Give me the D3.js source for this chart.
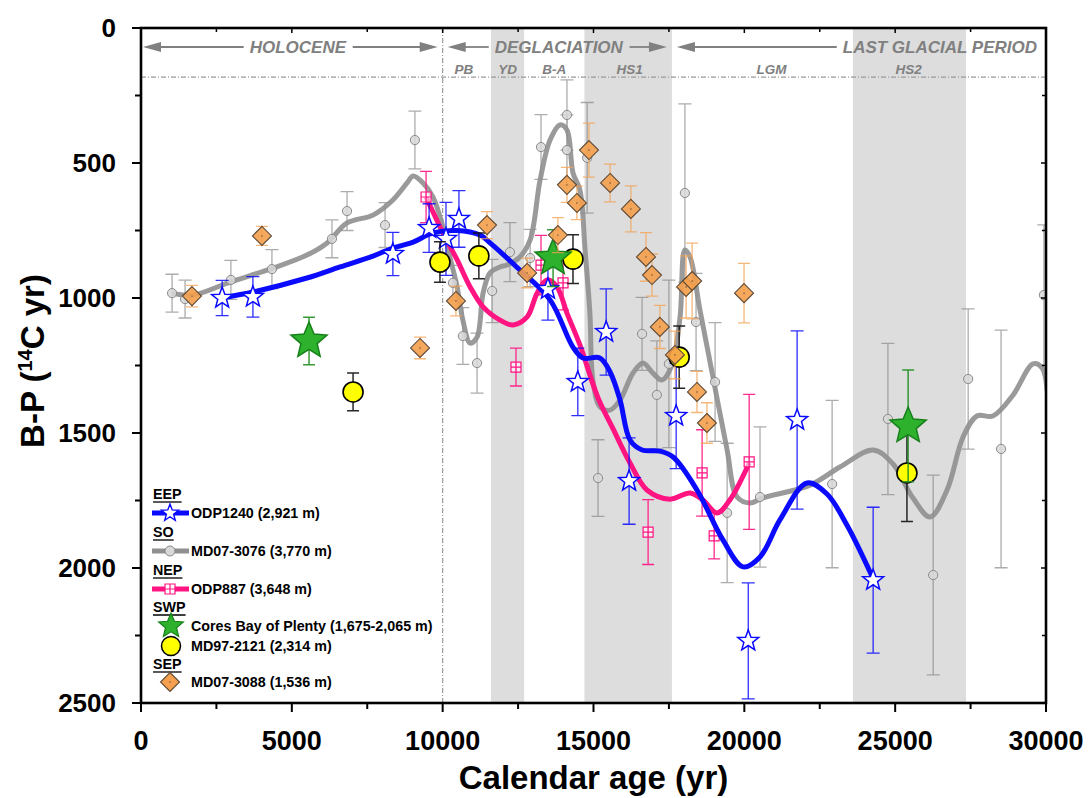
<!DOCTYPE html>
<html>
<head>
<meta charset="utf-8">
<script src="https://cdn.jsdelivr.net/npm/d3@7"></script>
<style>
  body { margin: 0; background: #fff; }
  svg { font-family: "Liberation Sans", Arial, Helvetica, sans-serif; }
</style>
</head>
<body>
<svg id="chart" width="1089" height="798"></svg>
<script>
// ---------- axis ticks ----------
const xTicks = [0, 5000, 10000, 15000, 20000, 25000, 30000];
const yTicks = [0, 500, 1000, 1500, 2000, 2500];

// ---------- climate intervals ----------
const shadedIntervals = [[11600, 12700], [14700, 17600], [23600, 27350]];
const periodNames = ["HOLOCENE", "DEGLACIATION", "LAST GLACIAL PERIOD"];
const periodRanges = [[0, 10000], [10000, 17600], [17600, 30000]];
const periodLabelAt = [5200, 13850, 30000];
const subPeriodNames = ["PB", "YD", "B-A", "HS1", "LGM", "HS2"];
const subPeriodAt = [10700, 12150, 13700, 16200, 20900, 25450];

// ---------- EEP: ODP1240 [age, B-P, 1σ] ----------
const odp1240 = [[2690,1000,65],[3710,996,75],[8350,837,80],[9550,741,90],[10110,781,135],
  [10540,707,105],[13490,967,115],[14480,1311,125],[15420,1126,160],[16180,1678,160],
  [17740,1437,195],[20130,2270,215],[21750,1452,330],[24270,2045,270]];
const odp1240Fit = [[2880,996],[3710,978],[5500,926],[6600,885],[7690,845],[8350,815],
  [9020,793],[9680,759],[10480,750],[11240,767],[11570,796],[12450,885],[13560,1007],
  [14320,1182],[14650,1222],[15210,1222],[15550,1274],[15880,1378],[16210,1526],
  [16610,1563],[17200,1567],[17640,1589],[18430,1711],[19290,1896],[19960,1996],
  [20520,1959],[21180,1822],[22080,1685],[22740,1726],[23400,1841],[24270,2040]];

// ---------- SO: MD07-3076 ----------
const md073076 = [[1030,982,70],[1460,1004,70],[2980,933,72],[4340,893,72],[6330,781,70],
  [6830,678,72],[8090,730,83],[9080,415,107],[10340,944,65],[10670,1141,105],[11140,1241,111],
  [11640,974,117],[12230,830,109],[12900,852,106],[13260,441,120],[14120,322,130],[14120,452,130],
  [14790,481,205],[15150,1667,142],[16610,1133,135],[17100,1359,200],[17500,1244,310],
  [18030,611,330],[18400,1089,180],[19030,1311,220],[19430,1796,258],[20520,1737,260],
  [22910,1689,310],[24760,1448,280],[26260,2026,370],[27420,1300,260],[28510,1559,440],
  [29930,989,260]];
const md073076Fit = [[1030,982],[1720,989],[2950,941],[4380,889],[5500,841],[6170,796],
  [6830,722],[7690,693],[8350,637],[8820,574],[9020,548],[9350,574],[9680,626],[10010,737],
  [10240,848],[10480,959],[10670,1082],[10910,1167],[11140,1145],[11340,982],[11570,907],
  [11900,885],[12130,878],[12560,848],[12900,785],[13230,563],[13560,415],[13890,359],
  [14120,378],[14320,537],[14550,600],[14720,822],[14880,1056],[14980,1304],[15220,1404],
  [15550,1415],[15880,1378],[16310,1278],[16640,1241],[16970,1278],[17270,1304],[17600,1248],
  [17870,1070],[18030,822],[18200,848],[18530,1045],[18960,1293],[19430,1563],[19760,1737],
  [20190,1759],[20590,1741],[22180,1693],[23170,1626],[24270,1563],[24930,1615],[25590,1741],
  [26160,1811],[26720,1711],[27250,1515],[27710,1437],[28240,1437],[28910,1359],[29570,1244],
  [29870,1259],[30040,1344]];

// ---------- NEP: ODP887 ----------
const odp887 = [[9450,626,95],[12430,1256,70],[13260,878,110],[13990,944,100],
  [16810,1867,120],[18600,1648,160],[19000,1881,85],[20160,1607,250]];
const odp887Fit = [[9450,626],[10010,759],[10480,859],[10910,959],[11340,1033],[11900,1082],
  [12330,1100],[12800,1070],[13130,982],[13460,933],[13790,959],[14120,1056],[14550,1174],
  [15150,1370],[15650,1485],[16210,1611],[16770,1711],[17540,1745],[18200,1722],[18630,1748],
  [19090,1796],[19520,1748],[20160,1611]];

// ---------- SWP ----------
const bayOfPlenty = [[5570,1159,88],[13660,852,105],[25430,1474,207]];
const md972121 = [[7030,1348,70],[9910,867,75],[11200,844,85],[14320,856,90],
  [17840,1219,115],[25390,1648,180]];

// ---------- SEP: MD07-3088 ----------
const md073088 = [[1690,993,40],[4010,770,35],[9250,1185,40],[10440,1011,55],[11470,730,50],
  [12800,907,55],[13820,767,65],[14120,581,65],[14450,648,62],[14850,452,100],[15550,574,70],
  [16240,670,85],[16740,848,90],[16940,915,78],[17200,1107,80],[17700,1211,88],[18070,959,115],
  [18270,937,140],[18430,1348,76],[18760,1463,75],[19990,982,110]];

// ---------- legend ----------
const legendGroups = ["EEP", "SO", "NEP", "SWP", "SEP"];
const legendLabels = ["ODP1240 (2,921 m)", "MD07-3076 (3,770 m)", "ODP887 (3,648 m)",
  "Cores Bay of Plenty (1,675-2,065 m)", "MD97-2121 (2,314 m)", "MD07-3088 (1,536 m)"];

// =================================================================
const svg = d3.select("#chart");
const plotL = 141, plotR = 1046, plotT = 28, plotB = 703;
const x = d3.scaleLinear().domain([0, 30000]).range([plotL, plotR]);
const y = d3.scaleLinear().domain([0, 2500]).range([plotT, plotB]);

const BLUE = "#0a0aff", PINK = "#ff1482", GREY = "#8f8f8f", ORANGE = "#f4a04e";

svg.append("defs").append("clipPath").attr("id", "plot")
  .append("rect").attr("x", plotL).attr("y", plotT).attr("width", plotR - plotL).attr("height", plotB - plotT);

// shaded intervals
svg.append("g").selectAll("rect").data(shadedIntervals).join("rect")
  .attr("x", d => x(d[0])).attr("width", d => x(d[1]) - x(d[0]))
  .attr("y", plotT).attr("height", plotB - plotT).attr("fill", "#dddddd");

// dash-dot reference lines
svg.append("line").attr("x1", x(10000)).attr("x2", x(10000)).attr("y1", plotT).attr("y2", plotB)
  .attr("stroke", "#999").attr("stroke-width", 1.2).attr("stroke-dasharray", "5,2,1,2");
svg.append("line").attr("x1", plotL).attr("x2", plotR).attr("y1", y(182)).attr("y2", y(182))
  .attr("stroke", "#999").attr("stroke-width", 1.2).attr("stroke-dasharray", "5,2,1,2");

// period arrows & labels
const hdr = svg.append("g").attr("fill", "#808080").attr("stroke", "#808080");
const arrowY = 47, headLen = 18, headHalf = 5;
function headLeft(px) {
  hdr.append("path").attr("stroke", "none")
    .attr("d", `M${px},${arrowY}L${px + headLen},${arrowY - headHalf}L${px + headLen},${arrowY + headHalf}Z`);
}
function headRight(px) {
  hdr.append("path").attr("stroke", "none")
    .attr("d", `M${px},${arrowY}L${px - headLen},${arrowY - headHalf}L${px - headLen},${arrowY + headHalf}Z`);
}
periodNames.forEach((name, i) => {
  const [a, b] = periodRanges[i];
  const x1 = x(a) + (i === 0 ? 2 : 5), x2 = x(b) - (i === 2 ? 0 : 5);
  const t = hdr.append("text").attr("stroke", "none")
    .attr("font-size", 17).attr("font-weight", "bold").attr("font-style", "italic")
    .attr("y", arrowY + 6).text(name);
  if (i === 2) {
    t.attr("x", x(periodLabelAt[i]) - 9).attr("text-anchor", "end");
  } else {
    t.attr("x", x(periodLabelAt[i])).attr("text-anchor", "middle");
  }
  const bb = t.node().getBBox();
  headLeft(x1);
  hdr.append("line").attr("stroke-width", 1.8)
    .attr("x1", x1 + headLen - 1).attr("x2", bb.x - 6).attr("y1", arrowY).attr("y2", arrowY);
  if (i !== 2) {
    headRight(x2);
    hdr.append("line").attr("stroke-width", 1.8)
      .attr("x1", bb.x + bb.width + 6).attr("x2", x2 - headLen + 1).attr("y1", arrowY).attr("y2", arrowY);
  }
});
svg.append("g").selectAll("text").data(subPeriodNames).join("text")
  .attr("x", (d, i) => x(subPeriodAt[i])).attr("y", 74)
  .attr("text-anchor", "middle").attr("font-size", 13.5).attr("font-weight", "bold")
  .attr("font-style", "italic").attr("fill", "#808080").text(d => d);

// ---------- helpers ----------
const plot = svg.append("g").attr("clip-path", "url(#plot)");
const fitLine = d3.line().x(d => x(d[0])).y(d => y(d[1])).curve(d3.curveCatmullRom.alpha(0.5));

function errorBars(data, color, cap, width, opacity) {
  plot.append("g").attr("stroke", color).attr("stroke-width", width).attr("opacity", opacity)
    .attr("fill", "none")
    .selectAll("path").data(data).join("path")
    .attr("d", d => {
      const cx = x(d[0]), y1 = y(d[1] - d[2]), y2 = y(d[1] + d[2]);
      return `M${cx},${y1}V${y2}M${cx - cap / 2},${y1}h${cap}M${cx - cap / 2},${y2}h${cap}`;
    });
}
function starPath(R, ratio = 0.42) {
  const pts = d3.range(10).map(i => {
    const ang = -Math.PI / 2 + i * Math.PI / 5, r = i % 2 ? R * ratio : R;
    return [r * Math.cos(ang), r * Math.sin(ang)];
  });
  return "M" + pts.map(p => p.join(",")).join("L") + "Z";
}
function squarePath(s) {
  const h = s / 2;
  return `M${-h},${-h}h${s}v${s}h${-s}Z M0,${-h}V${h} M${-h},0H${h}`;
}
function diamondPath(h) { return `M0,${-h}L${h},0L0,${h}L${-h},0Z`; }

// ---------- SO: MD07-3076 ----------
errorBars(md073076, "#8a8a8a", 13, 1.3, 0.7);
plot.append("path").datum(md073076Fit).attr("d", fitLine)
  .attr("fill", "none").attr("stroke", GREY).attr("stroke-width", 5).attr("opacity", 0.9);
plot.append("g").selectAll("circle").data(md073076).join("circle")
  .attr("cx", d => x(d[0])).attr("cy", d => y(d[1])).attr("r", 4.6)
  .attr("fill", "#d8d8d8").attr("fill-opacity", 0.85).attr("stroke", "#8a8a8a").attr("stroke-width", 1);

// ---------- NEP: ODP887 ----------
errorBars(odp887, PINK, 12, 1.3, 0.9);
plot.append("path").datum(odp887Fit).attr("d", fitLine)
  .attr("fill", "none").attr("stroke", PINK).attr("stroke-width", 5);
plot.append("g").selectAll("path").data(odp887).join("path")
  .attr("transform", d => `translate(${x(d[0])},${y(d[1])})`).attr("d", squarePath(10))
  .attr("fill", "rgba(255,255,255,0.6)").attr("stroke", PINK).attr("stroke-width", 1.2);

// ---------- EEP: ODP1240 ----------
errorBars(odp1240, BLUE, 13, 1.3, 0.85);
plot.append("path").datum(odp1240Fit).attr("d", fitLine)
  .attr("fill", "none").attr("stroke", BLUE).attr("stroke-width", 5);
plot.append("g").selectAll("path").data(odp1240).join("path")
  .attr("transform", d => `translate(${x(d[0])},${y(d[1])})`).attr("d", starPath(11))
  .attr("fill", "#fff").attr("stroke", BLUE).attr("stroke-width", 1.5);

// ---------- SWP ----------
errorBars(md972121, "#111", 12, 1.5, 0.9);
plot.append("g").selectAll("circle").data(md972121).join("circle")
  .attr("cx", d => x(d[0])).attr("cy", d => y(d[1])).attr("r", 10)
  .attr("fill", "#ffff00").attr("stroke", "#000").attr("stroke-width", 1.6);
errorBars(bayOfPlenty, "#1f8f1f", 12, 1.5, 0.9);
plot.append("g").selectAll("path").data(bayOfPlenty).join("path")
  .attr("transform", d => `translate(${x(d[0])},${y(d[1])})`).attr("d", starPath(19, 0.45))
  .attr("fill", "#2eb22e").attr("stroke", "#17801a").attr("stroke-width", 1.5);

// ---------- SEP: MD07-3088 ----------
errorBars(md073088, ORANGE, 12, 1.3, 0.75);
const dia = plot.append("g").selectAll("g").data(md073088).join("g")
  .attr("transform", d => `translate(${x(d[0])},${y(d[1])})`);
dia.append("path").attr("d", diamondPath(9.5))
  .attr("fill", ORANGE).attr("fill-opacity", 0.9).attr("stroke", "#5e4a36").attr("stroke-width", 1.1);
dia.append("circle").attr("r", 0.7).attr("fill", "#5e4a36");

// ---------- axes & frame ----------
const axes = svg.append("g");
const xMinor = d3.range(0, 30001, 2500), yMinor = d3.range(0, 2501, 250);
axes.append("g").selectAll("line").data(xMinor).join("line")
  .attr("x1", d => x(d)).attr("x2", d => x(d)).attr("y1", plotB)
  .attr("y2", d => plotB + (d % 5000 === 0 ? 9 : 6)).attr("stroke", "#000").attr("stroke-width", 2);
axes.append("g").selectAll("line").data(xMinor).join("line")
  .attr("x1", d => x(d)).attr("x2", d => x(d)).attr("y1", plotT)
  .attr("y2", d => plotT + (d % 5000 === 0 ? 5 : 4)).attr("stroke", "#000").attr("stroke-width", 1.5);
axes.append("g").selectAll("line").data(yMinor).join("line")
  .attr("y1", d => y(d)).attr("y2", d => y(d)).attr("x1", plotL)
  .attr("x2", d => plotL - (d % 500 === 0 ? 9 : 6)).attr("stroke", "#000").attr("stroke-width", 2);
axes.append("g").selectAll("line").data(yMinor).join("line")
  .attr("y1", d => y(d)).attr("y2", d => y(d)).attr("x1", plotR)
  .attr("x2", d => plotR - (d % 500 === 0 ? 5 : 4)).attr("stroke", "#000").attr("stroke-width", 1.5);
axes.append("rect").attr("x", plotL).attr("y", plotT).attr("width", plotR - plotL).attr("height", plotB - plotT)
  .attr("fill", "none").attr("stroke", "#000").attr("stroke-width", 2.6);

axes.append("g").selectAll("text").data(xTicks).join("text")
  .attr("x", d => x(d)).attr("y", 750).attr("text-anchor", "middle")
  .attr("font-size", 27).attr("font-weight", "bold").text(d => d);
axes.append("g").selectAll("text").data(yTicks).join("text")
  .attr("x", 116).attr("y", d => y(d)).attr("dy", "0.36em").attr("text-anchor", "end")
  .attr("font-size", 26).attr("font-weight", "bold").text(d => d);

svg.append("text").attr("x", (plotL + plotR) / 2).attr("y", 789).attr("text-anchor", "middle")
  .attr("font-size", 33).attr("font-weight", "bold").text("Calendar age (yr)");
const yt = svg.append("text").attr("transform", `translate(44,361) rotate(-90)`)
  .attr("text-anchor", "middle").attr("font-size", 33).attr("font-weight", "bold");
yt.append("tspan").text("B-P (");
yt.append("tspan").attr("font-size", 20).attr("dy", -12).text("14");
yt.append("tspan").attr("dy", 12).text("C yr)");

// ---------- legend ----------
const lg = svg.append("g").attr("font-size", 14.3).attr("font-weight", "bold");
const headY = [494, 532, 570, 607, 664];
legendGroups.forEach((g, i) => {
  const t = lg.append("text").attr("x", 153).attr("y", headY[i] + 5).text(g);
  const w = t.node().getComputedTextLength();
  lg.append("line").attr("x1", 153).attr("x2", 153 + w).attr("y1", headY[i] + 8).attr("y2", headY[i] + 8)
    .attr("stroke", "#000").attr("stroke-width", 1.3);
});
const rowY = [513, 551, 589, 626, 646, 682];
legendLabels.forEach((l, i) => {
  lg.append("text").attr("x", 191).attr("y", rowY[i] + 5).text(l);
});
const lineColors = [BLUE, GREY, PINK];
lineColors.forEach((c, i) => {
  lg.append("line").attr("x1", 152).attr("x2", 189).attr("y1", rowY[i]).attr("y2", rowY[i])
    .attr("stroke", c).attr("stroke-width", 5);
});
lg.append("path").attr("transform", `translate(170,${rowY[0]})`).attr("d", starPath(9))
  .attr("fill", "#fff").attr("stroke", BLUE).attr("stroke-width", 1.4);
lg.append("circle").attr("cx", 170).attr("cy", rowY[1]).attr("r", 5)
  .attr("fill", "#d8d8d8").attr("stroke", "#8a8a8a");
lg.append("path").attr("transform", `translate(170,${rowY[2]})`).attr("d", squarePath(10))
  .attr("fill", "#fff").attr("stroke", PINK).attr("stroke-width", 1.2);
lg.append("path").attr("transform", `translate(171,${rowY[3]})`).attr("d", starPath(13, 0.45))
  .attr("fill", "#2eb22e").attr("stroke", "#17801a").attr("stroke-width", 1.2);
lg.append("circle").attr("cx", 171).attr("cy", rowY[4]).attr("r", 9.5)
  .attr("fill", "#ffff00").attr("stroke", "#000").attr("stroke-width", 1.5);
lg.append("path").attr("transform", `translate(170,${rowY[5]})`).attr("d", diamondPath(9.5))
  .attr("fill", ORANGE).attr("stroke", "#5e4a36").attr("stroke-width", 1.1);
lg.append("circle").attr("cx", 170).attr("cy", rowY[5]).attr("r", 0.7).attr("fill", "#5e4a36");
</script>
</body>
</html>
